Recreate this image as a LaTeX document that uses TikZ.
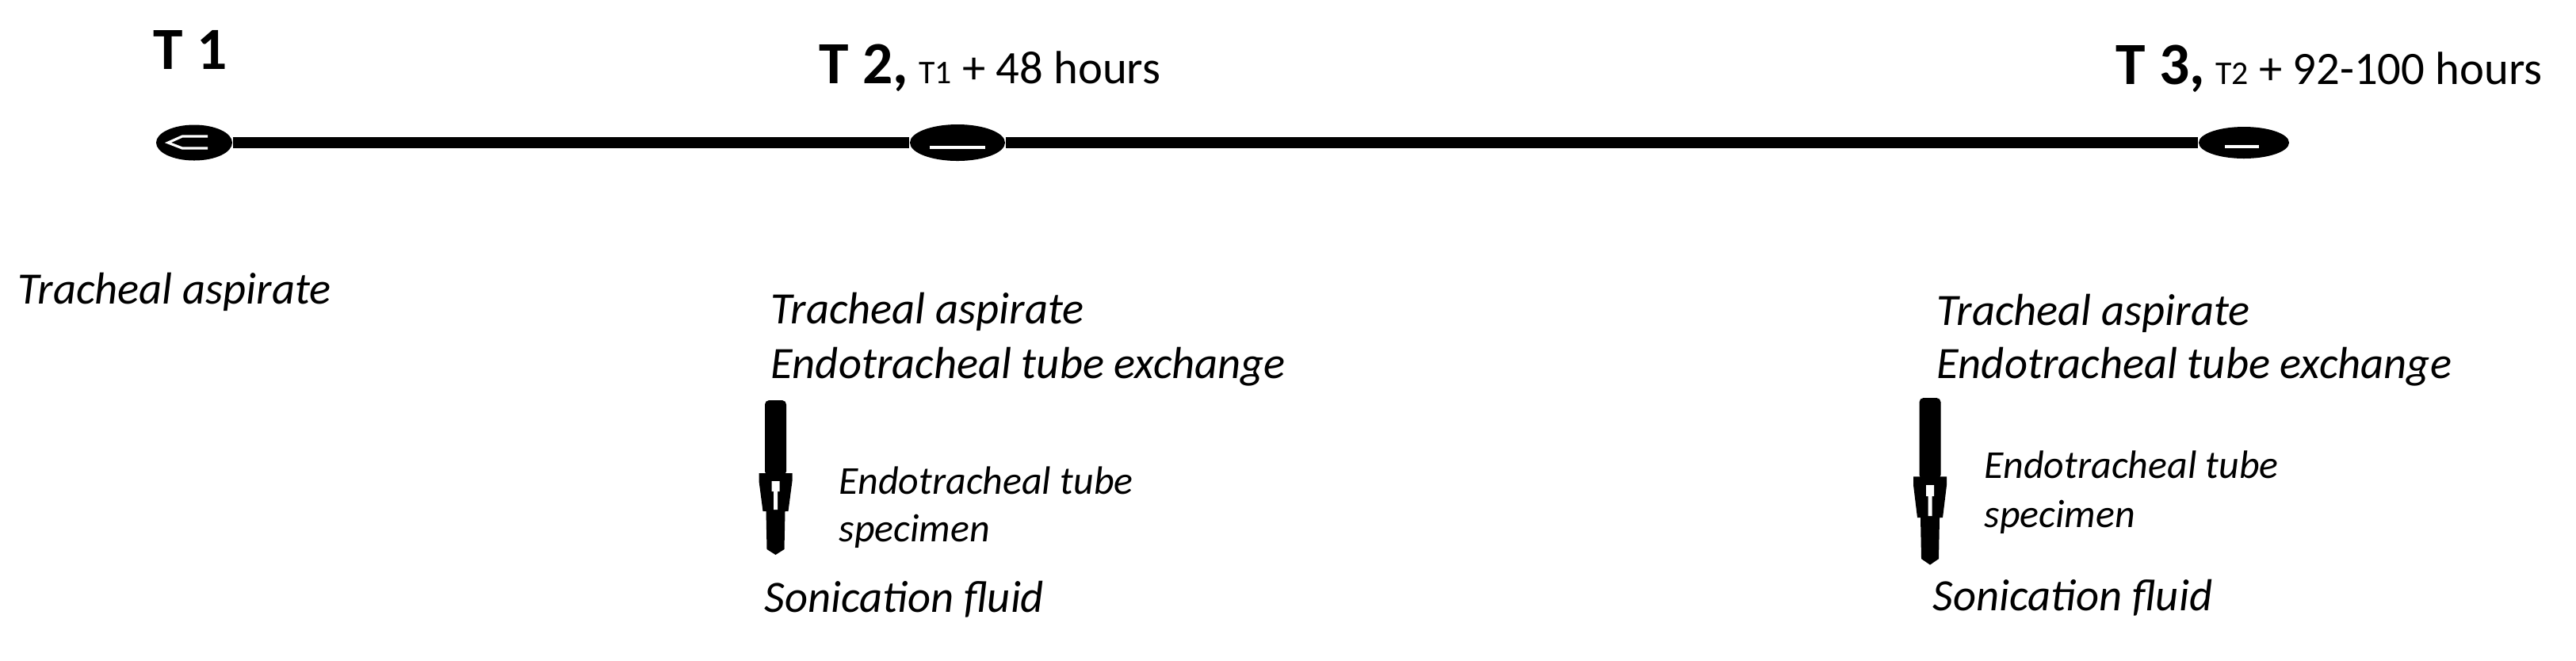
\documentclass[tikz,border=0pt]{standalone}
\usepackage{fontspec}
\setmainfont{Carlito}
\usetikzlibrary{shapes.geometric}
\newcommand{\tmark}[1]{{\fontsize{21.5}{26}\selectfont\bfseries #1}}
\newcommand{\tsmall}[1]{{\fontsize{11.9}{14}\selectfont #1}}
\begin{document}
\begin{tikzpicture}[
	dot/.style={ellipse,fill=black,inner sep=0pt},
	hdr/.style={anchor=base west,inner sep=0pt,font=\fontsize{16.7}{20}\selectfont},
	lbl/.style={anchor=base west,inner sep=0pt,font=\fontsize{16.1}{19}\selectfont\itshape},
	sublbl/.style={anchor=base west,inner sep=0pt,font=\fontsize{14.2}{17}\selectfont\itshape}]
	\useasboundingbox (0,0) rectangle (32.5,-8.33);
	% time line
	\node[dot,minimum width=0.96cm,minimum height=0.45cm] (t1) at (2.45,-1.80) {};
	\node[dot,minimum width=1.20cm,minimum height=0.46cm] (t2) at (12.08,-1.80) {};
	\node[dot,minimum width=1.14cm,minimum height=0.40cm] (t3) at (28.31,-1.80) {};
	\draw[line width=4pt] (t1) -- (t2) -- (t3);
	\draw[white,line width=0.9pt] ([shift={(0.17,0.08)}]t1.center) -- ++(-0.32,0) -- ++(-0.18,-0.08) -- ++(0.18,-0.07) -- ++(0.32,0);
	\draw[white,line width=1pt] ([shift={(-0.35,-0.06)}]t2.center) -- ++(0.70,0);
	\draw[white,line width=1pt] ([shift={(-0.24,-0.05)}]t3.center) -- ++(0.43,0);
	% headings
	\node[hdr] (h1) at (1.93,-0.87) {\tmark{T 1}};
	\node[hdr] (h2) at (10.33,-1.05) {\tmark{T 2,} \tsmall{T1} + 48 hours};
	\node[hdr] (h3) at (26.69,-1.06) {\tmark{T 3,} \tsmall{T2} + 92-100 hours};
	% samples
	\node[lbl] (ta1) at (0.22,-3.83) {Tracheal aspirate};
	\node[lbl] (ta2) at (9.72,-4.08) {Tracheal aspirate};
	\node[lbl] (ex2) at (9.72,-4.77) {Endotracheal tube exchange};
	\node[lbl] (ta3) at (24.43,-4.10) {Tracheal aspirate};
	\node[lbl] (ex3) at (24.43,-4.77) {Endotracheal tube exchange};
	\node[sublbl] (sp2) at (10.58,-6.23) {Endotracheal tube};
	\node[sublbl] (sp2b) at (10.58,-6.83) {specimen};
	\node[sublbl] (sp3) at (25.03,-6.03) {Endotracheal tube};
	\node[sublbl] (sp3b) at (25.03,-6.65) {specimen};
	\node[lbl] (so2) at (9.64,-7.72) {Sonication fluid};
	\node[lbl] (so3) at (24.38,-7.70) {Sonication fluid};
	% arrows
	\foreach \x/\y/\s in {9.785/-5.05/1,24.35/-5.02/1.08}
	{
		\begin{scope}[shift={(\x,\y)},yscale=\s]
			\fill[rounded corners=1.5pt] (-0.135,0) rectangle (0.135,-0.95);
			\fill (-0.21,-0.92) -- (0.21,-0.92) -- (0.21,-1.02) -- (0.16,-1.40) -- (0.12,-1.40) -- (0.11,-1.88) -- (0,-1.95) -- (-0.11,-1.88) -- (-0.12,-1.40) -- (-0.16,-1.40) -- (-0.21,-1.02) -- cycle;
			\fill[white] (-0.05,-1.02) -- (0.05,-1.02) -- (0.05,-1.15) -- (0.025,-1.15) -- (0.025,-1.38) -- (-0.025,-1.38) -- (-0.025,-1.15) -- (-0.05,-1.15) -- cycle;
		\end{scope}
	}
\end{tikzpicture}
\end{document}
